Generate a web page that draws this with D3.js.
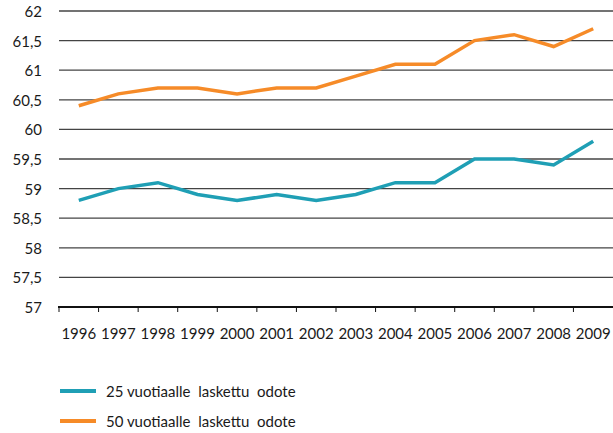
<!DOCTYPE html>
<html><head><meta charset="utf-8">
<script src="https://cdn.jsdelivr.net/npm/d3@7"></script>
<style>body{margin:0;background:#fff}svg{display:block}text{font-family:Lato,"Open Sans",sans-serif;fill:#1a1a1a}</style>
</head><body><svg id="c" width="613" height="433"></svg>
<script>
const years = ["1996","1997","1998","1999","2000","2001","2002","2003","2004","2005","2006","2007","2008","2009"];
const series25 = [58.8,59.0,59.1,58.9,58.8,58.9,58.8,58.9,59.1,59.1,59.5,59.5,59.4,59.8];
const series50 = [60.4,60.6,60.7,60.7,60.6,60.7,60.7,60.9,61.1,61.1,61.5,61.6,61.4,61.7];
const yTicks = [57,57.5,58,58.5,59,59.5,60,60.5,61,61.5,62];
const seriesNames = ["25 vuotiaalle  laskettu  odote","50 vuotiaalle  laskettu  odote"];
const colors = ["#1f9fb5","#f68b28"];

const svg = d3.select("#c");
const L = 59, R = 613, T = 11, B = 307;
const FS = 15;
const x = d3.scaleBand().domain(years).range([L,R]);
const y = d3.scaleLinear().domain([57,62]).range([B,T]);
const fmt = d => String(d).replace(".",",");

svg.append("g").selectAll("line").data(yTicks.filter(d=>d>57)).join("line")
  .attr("x1",L).attr("x2",R).attr("y1",d=>y(d)).attr("y2",d=>y(d))
  .attr("stroke","#444").attr("stroke-width",1.3);

svg.append("g").selectAll("text").data(yTicks).join("text")
  .attr("x",42).attr("y",d=>y(d)+6).attr("text-anchor","end")
  .attr("font-size",FS).text(fmt);

const xa = svg.append("g").attr("transform",`translate(0,${B})`)
  .call(d3.axisBottom(x).tickSize(0).tickPadding(21));
xa.select(".domain").remove();
xa.selectAll("text").attr("font-size",FS).style("font-family","Lato,'Open Sans',sans-serif").attr("fill","#1a1a1a");
svg.append("line").attr("x1",L-1).attr("x2",R).attr("y1",B).attr("y2",B).attr("stroke","#111").attr("stroke-width",2);
svg.append("g").selectAll("line").data(years).join("line")
  .attr("x1",d=>x(d)).attr("x2",d=>x(d)).attr("y1",B).attr("y2",B+5)
  .attr("stroke","#111").attr("stroke-width",1);

const line = d3.line().x((d,i)=>x(years[i])+x.bandwidth()/2).y(d=>y(d));
[series25,series50].forEach((s,k)=>{
  svg.append("path").attr("d",line(s)).attr("fill","none")
    .attr("stroke",colors[k]).attr("stroke-width",3.5).attr("stroke-linejoin","miter");
});

const lg = svg.append("g");
seriesNames.forEach((n,k)=>{
  const yy = 391 + k*30;
  lg.append("line").attr("x1",60).attr("x2",96).attr("y1",yy).attr("y2",yy)
    .attr("stroke",colors[k]).attr("stroke-width",4);
  lg.append("text").attr("x",106).attr("y",yy+6).attr("font-size",FS).attr("xml:space","preserve").text(n);
});
</script></body></html>
